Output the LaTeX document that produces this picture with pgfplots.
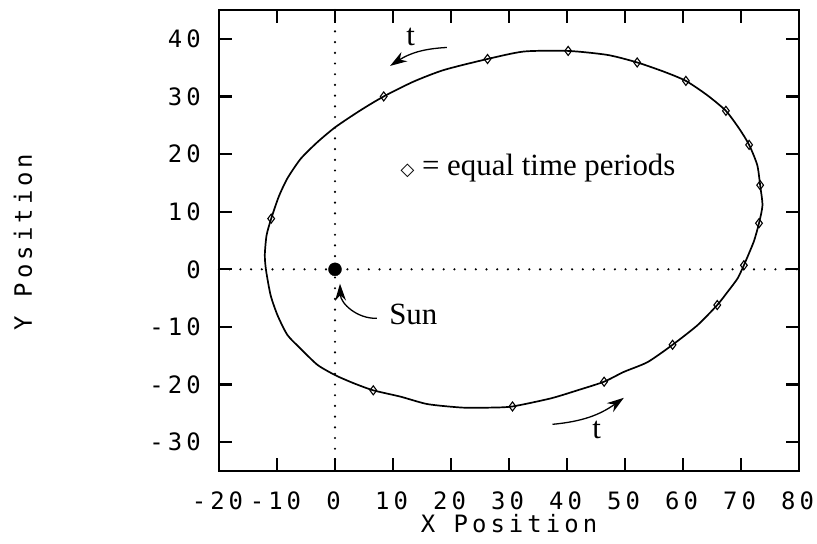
\documentclass[border=0pt]{standalone}
\usepackage{fontspec}
\setmainfont{Liberation Serif}
\newfontfamily\pixmono[LetterSpace=17]{DejaVu Sans Mono}
\newfontfamily\symfont{DejaVu Sans}
\usepackage{pgfplots}
\pgfplotsset{compat=1.18}
\usetikzlibrary{arrows.meta}

% Orbit traced counter-clockwise, starting near aphelion
\pgfplotstableread{
x y
70.5 0.7
72.2 4.8
73.1 8.0
73.7 11.1
73.3 14.6
72.8 18.1
71.4 21.6
69.7 24.4
67.4 27.5
64.2 30.2
60.5 32.7
56.7 34.3
52.1 35.9
47.0 37.2
40.2 37.9
32.6 37.8
26.3 36.5
18.8 34.6
13.6 32.6
8.4 30.0
4.4 27.6
0.1 24.7
-3.0 22.1
-5.9 19.2
-8.2 15.8
-9.7 12.6
-11.0 8.8
-11.8 5.9
-12.1 2.5
-11.9 -0.1
-11.1 -4.5
-9.9 -8.0
-8.2 -11.4
-5.9 -13.8
-3.0 -16.6
0.1 -18.4
3.3 -19.8
6.6 -21.0
11.3 -22.1
16.0 -23.4
22.0 -24.0
26.8 -24.0
30.6 -23.8
37.2 -22.4
41.8 -21.0
46.4 -19.5
49.8 -17.8
53.9 -16.1
58.2 -13.1
62.5 -9.7
65.9 -6.2
67.7 -3.9
69.4 -1.6
70.5 0.7
}\orbit

% Positions after equal time steps
\pgfplotstableread{
x y
70.5 0.7
73.1 8.0
73.3 14.6
71.4 21.6
67.4 27.5
60.5 32.7
52.1 35.9
40.2 37.9
26.3 36.5
8.4 30.0
-11.0 8.8
6.6 -21.0
30.6 -23.8
46.4 -19.5
58.2 -13.1
65.9 -6.2
}\steps

\begin{document}
\begin{tikzpicture}
\useasboundingbox (0,0) rectangle (817bp,544bp);
\begin{axis}[
  at={(219bp,73bp)}, anchor=south west,
  scale only axis, width=580bp, height=461bp,
  xmin=-20, xmax=80, ymin=-35, ymax=45,
  xtick={-20,-10,...,80}, ytick={-30,-20,...,40},
  xticklabels={-20,-10,0,10,20,30,40,50,60,70,80},
  yticklabels={-30,-20,-10,0,10,20,30,40},
  tick align=inside, major tick length=13bp,
  major tick style={black, line width=2.2bp},
  axis line style={line width=2.6bp},
  ticklabel style={font=\pixmono\fontsize{24}{26}\selectfont, inner sep=0pt},
  xticklabel style={anchor=north, yshift=-21bp, xshift=-1.5bp},
  yticklabel style={anchor=east, xshift=-18bp},
  xlabel={X Position}, ylabel={Y Position},
  label style={font=\pixmono\fontsize{24}{26}\selectfont, inner sep=0pt},
  xlabel style={at={(axis description cs:0.5,-0.115)}, anchor=center},
  ylabel style={at={(axis description cs:-0.338,0.497)}, anchor=center},
  clip=false,
]
% reference axes through the Sun
\draw[black, line width=2.4bp, line cap=round, dash pattern=on 0bp off 10.7bp]
  (axis cs:-20,0) -- (axis cs:80,0);
\draw[black, line width=2.4bp, line cap=round, dash pattern=on 0bp off 10.7bp]
  (axis cs:0,45) -- (axis cs:0,-35);

\addplot[black, line width=1.7bp, smooth, tension=0.4, mark=none] table {\orbit};
\addplot[black, only marks, mark=diamond, mark size=4.5bp, mark options={line width=1.1bp}] table {\steps};
\addplot[black, only marks, mark=*, mark size=6.5bp] coordinates {(0,0)};

\node[anchor=base, font=\fontsize{31}{34}\selectfont] at (axis cs:35.0,16.35)
  {{\symfont\fontsize{18}{18}\selectfont ◇} = equal time periods};
\node[anchor=base, font=\fontsize{31}{34}\selectfont] at (axis cs:13.5,-9.5) {Sun};
\node[anchor=base, font=\fontsize{31}{34}\selectfont] at (axis cs:13.05,38.9) {t};
\node[anchor=base, font=\fontsize{31}{34}\selectfont] at (axis cs:45.1,-29.4) {t};

\draw[line width=1.3bp, -{Stealth[length=17bp,width=11bp]}] (axis cs:19.3,38.5) to[bend right=15] (axis cs:9.5,35.3);
\draw[line width=1.3bp, -{Stealth[length=17bp,width=11bp]}] (axis cs:37.5,-26.9) to[bend right=15] (axis cs:49.8,-22.3);
\draw[line width=1.3bp, -{Stealth[length=17bp,width=11bp]}] (axis cs:7.2,-8.5) to[bend left=45] (axis cs:0.86,-2.5);
\end{axis}
\end{tikzpicture}
\end{document}
